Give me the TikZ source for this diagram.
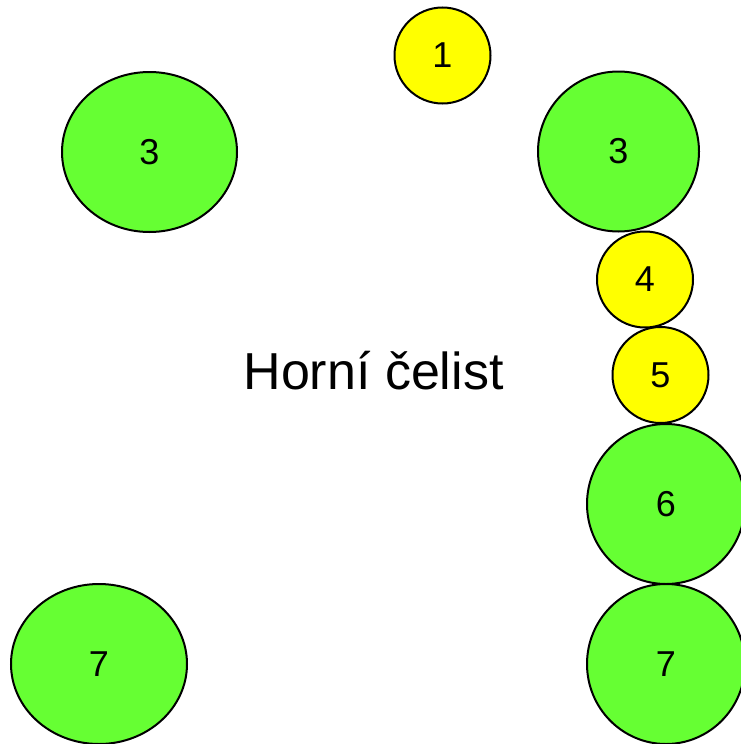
\documentclass[tikz,border=0pt]{standalone}
\usepackage{fontspec}
\setmainfont{Liberation Sans}
\usetikzlibrary{shapes.geometric}
\definecolor{toothgreen}{HTML}{66FF33}
\definecolor{toothyellow}{HTML}{FFFF00}
\begin{document}
\begin{tikzpicture}[x=1pt,y=-1pt]
    \tikzstyle{small tooth}=[circle,draw,line width=2pt,fill=toothyellow,inner sep=0,minimum size=96pt,font=\fontsize{36}{42}\selectfont]
    \tikzstyle{big tooth}=[ellipse,draw,line width=2pt,fill=toothgreen,inner sep=0,minimum height=160pt,font=\fontsize{36}{42}\selectfont]
    \useasboundingbox (0,0) rectangle (741,744);

    \node(t1)[small tooth] at (442.5,55.5){1};
    \node(t3l)[big tooth,minimum width=175pt] at (149.5,152){3};
    \node(t3r)[big tooth,minimum width=161pt] at (618.5,151.5){3};
    \node(t4)[small tooth] at (645,279.5){4};
    \node(t5)[small tooth] at (660.5,375){5};
    \node(t6)[big tooth,minimum width=158pt] at (666,504){6};
    \node(t7l)[big tooth,minimum width=176pt] at (99,664){7};
    \node(t7r)[big tooth,minimum width=158pt] at (666,664){7};

    \node(jaw)[anchor=base,font=\fontsize{52}{60}\selectfont] at (373.5,389){Horní čelist};
\end{tikzpicture}
\end{document}
